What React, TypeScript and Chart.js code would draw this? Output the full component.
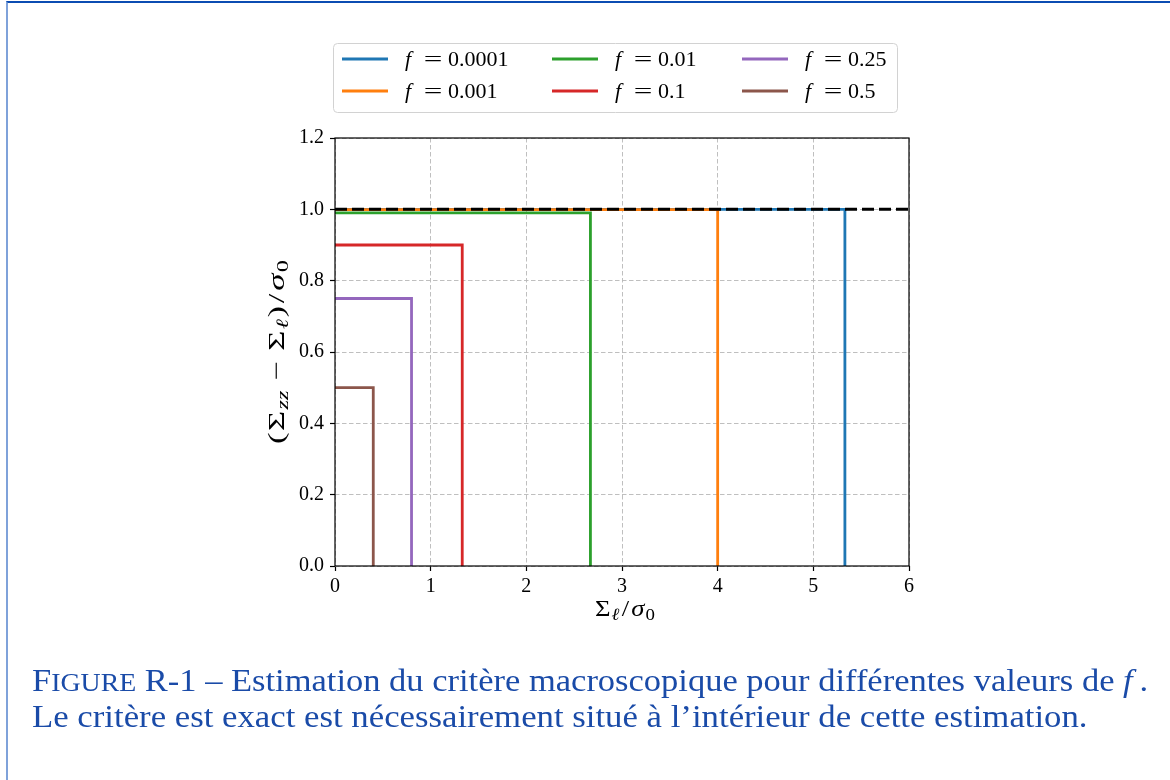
import React, { useEffect, useLayoutEffect, useRef } from "react";
import { Chart, registerables } from "chart.js";

Chart.register(...registerables);

// ---- data ----
const fLabels = ["0.0001", "0.001", "0.01", "0.1", "0.25", "0.5"];
const cornerX = [5.33, 4.0, 2.67, 1.33, 0.8, 0.4];
const cornerY = [0.9999, 0.999, 0.99, 0.9, 0.75, 0.5];
const seriesColors = ["#1f77b4", "#ff7f0e", "#2ca02c", "#d62728", "#9467bd", "#8c564b"];
const referenceY = 1.0;
const xRange = [0, 6];
const yRange = [0, 1.2];
const xTickValues = [0, 1, 2, 3, 4, 5, 6];
const yTickValues = [0, 0.2, 0.4, 0.6, 0.8, 1.0, 1.2];

// ---- layout ----
const W = 1170;
const H = 780;
const AREA = { left: 335, right: 909, top: 138, bottom: 566 };
const X_AXIS_H = 60;
const SERIF = '"Liberation Serif", "Times New Roman", serif';
const CAPTION_COLOR = "#1a4ba8";

type Seg = { t: string; font: string; dy?: number; dx?: number };

function segWidth(ctx: CanvasRenderingContext2D, segs: Seg[]) {
  let w = 0;
  for (const s of segs) {
    ctx.font = s.font;
    w += ctx.measureText(s.t).width + (s.dx || 0);
  }
  return w;
}

// draws segments centred on (x, y), stretched horizontally to targetW
function drawSegsFit(ctx: CanvasRenderingContext2D, segs: Seg[], x: number, y: number, targetW: number) {
  const nat = segWidth(ctx, segs);
  const sx = targetW / nat;
  ctx.save();
  ctx.translate(x - targetW / 2, y);
  ctx.scale(sx, 1);
  let cx = 0;
  for (const s of segs) {
    ctx.font = s.font;
    cx += s.dx || 0;
    ctx.fillText(s.t, cx, s.dy || 0);
    cx += ctx.measureText(s.t).width;
  }
  ctx.restore();
}

const up = (px: number) => `${px}px ${SERIF}`;
const it = (px: number) => `italic ${px}px ${SERIF}`;

const framePlugin = {
  id: "frame",
  afterDatasetsDraw(chart: any) {
    const { ctx, chartArea } = chart;
    ctx.save();
    ctx.strokeStyle = "#000";
    ctx.lineWidth = 1.2;
    ctx.strokeRect(chartArea.left, chartArea.top, chartArea.right - chartArea.left, chartArea.bottom - chartArea.top);
    ctx.restore();
  },
};

const titlesPlugin = {
  id: "axisTitles",
  afterDraw(chart: any) {
    const { ctx, chartArea } = chart;
    ctx.save();
    ctx.fillStyle = "#000";
    ctx.textBaseline = "alphabetic";
    const M = 24;
    const S = 17;
    const xSegs: Seg[] = [
      { t: "Σ", font: up(M) },
      { t: "ℓ", font: it(S), dy: 4, dx: 1 },
      { t: "/", font: up(M), dx: 2 },
      { t: "σ", font: it(M), dx: 2 },
      { t: "0", font: up(S), dy: 4, dx: 1 },
    ];
    drawSegsFit(ctx, xSegs, (chartArea.left + chartArea.right) / 2 + 3, 616, 60);

    const ySegs: Seg[] = [
      { t: "(", font: up(M) },
      { t: "Σ", font: up(M), dx: 1 },
      { t: "zz", font: it(S), dy: 4, dx: 1 },
      { t: "−", font: up(M), dx: 7 },
      { t: "Σ", font: up(M), dx: 7 },
      { t: "ℓ", font: it(S), dy: 4, dx: 1 },
      { t: ")", font: up(M), dx: 1 },
      { t: "/", font: up(M), dx: 2 },
      { t: "σ", font: it(M), dx: 2 },
      { t: "0", font: up(S), dy: 4, dx: 1 },
    ];
    ctx.translate(284, (chartArea.top + chartArea.bottom) / 2);
    ctx.rotate(-Math.PI / 2);
    drawSegsFit(ctx, ySegs, 0, 0, 184);
    ctx.restore();
  },
};

const legendPlugin = {
  id: "gridLegend",
  afterDraw(chart: any) {
    const { ctx } = chart;
    const box = { x: 333.5, y: 43.5, w: 564, h: 69 };
    ctx.save();
    ctx.beginPath();
    ctx.roundRect(box.x, box.y, box.w, box.h, 4);
    ctx.fillStyle = "rgba(255,255,255,0.9)";
    ctx.fill();
    ctx.strokeStyle = "#d2d2d2";
    ctx.lineWidth = 1;
    ctx.stroke();

    const colX = [342, 552, 742];
    const rowY = [59, 91];
    const ds = chart.data.datasets.filter((d: any) => d.inLegend);
    ds.forEach((d: any, k: number) => {
      const col = Math.floor(k / 2);
      const row = k % 2;
      const x0 = colX[col];
      const y0 = rowY[row];
      ctx.strokeStyle = d.borderColor;
      ctx.lineWidth = 2.8;
      ctx.setLineDash([]);
      ctx.beginPath();
      ctx.moveTo(x0, y0);
      ctx.lineTo(x0 + 46, y0);
      ctx.stroke();

      ctx.fillStyle = "#000";
      ctx.textBaseline = "alphabetic";
      const tx = x0 + 63;
      const by = y0 + 7;
      ctx.font = it(22);
      ctx.fillText("f", tx, by);
      ctx.font = up(22);
      ctx.textAlign = "center";
      ctx.save();
      ctx.translate(tx + 28, by);
      ctx.scale(1.5, 1);
      ctx.fillText("=", 0, 0);
      ctx.restore();
      ctx.textAlign = "left";
      ctx.fillText(d.label, tx + 43, by);
    });
    ctx.restore();
  },
};

function StepChart() {
  const ref = useRef<HTMLCanvasElement | null>(null);

  useEffect(() => {
    if (!ref.current) return;
    const datasets: any[] = fLabels.map((lab, i) => ({
      label: lab,
      inLegend: true,
      data: [
        { x: xRange[0], y: cornerY[i] },
        { x: cornerX[i], y: cornerY[i] },
        { x: cornerX[i], y: yRange[0] },
      ],
      borderColor: seriesColors[i],
      backgroundColor: seriesColors[i],
      borderWidth: 2.8,
      pointRadius: 0,
      fill: false,
      tension: 0,
      order: fLabels.length - i,
    }));
    datasets.push({
      label: "reference",
      inLegend: false,
      data: [
        { x: xRange[0], y: referenceY },
        { x: xRange[1], y: referenceY },
      ],
      borderColor: "#000",
      borderWidth: 3,
      borderDash: [12, 5],
      pointRadius: 0,
      fill: false,
      order: 0,
    });

    const gridOpts = {
      color: "#b8b8b8",
      lineWidth: 0.9,
      drawTicks: true,
      tickLength: 5,
      tickColor: "#000",
      tickWidth: 1.2,
      tickBorderDash: [],
    };

    const chart = new Chart(ref.current, {
      type: "line",
      data: { datasets },
      options: {
        responsive: false,
        maintainAspectRatio: false,
        animation: false,
        events: [],
        layout: {
          padding: {
            left: 0,
            top: AREA.top,
            right: W - AREA.right,
            bottom: H - AREA.bottom - X_AXIS_H,
          },
        },
        plugins: {
          legend: { display: false },
          tooltip: { enabled: false },
        },
        scales: {
          x: {
            type: "linear",
            min: xRange[0],
            max: xRange[1],
            afterBuildTicks: (s: any) => {
              s.ticks = xTickValues.map((v) => ({ value: v }));
            },
            afterFit: (s: any) => {
              s.height = X_AXIS_H;
            },
            ticks: {
              autoSkip: false,
              maxRotation: 0,
              padding: 4,
              color: "#000",
              font: { family: SERIF, size: 20 },
              callback: (v: any) => String(v),
            },
            grid: gridOpts,
            border: { display: false, dash: [4.5, 2.5] },
          },
          y: {
            type: "linear",
            min: yRange[0],
            max: yRange[1],
            afterBuildTicks: (s: any) => {
              s.ticks = yTickValues.map((v) => ({ value: v }));
            },
            afterFit: (s: any) => {
              s.width = AREA.left;
            },
            ticks: {
              autoSkip: false,
              padding: 6,
              color: "#000",
              font: { family: SERIF, size: 20 },
              callback: (v: any) => Number(v).toFixed(1),
            },
            grid: gridOpts,
            border: { display: false, dash: [4.5, 2.5] },
          },
        },
      } as any,
      plugins: [framePlugin, titlesPlugin, legendPlugin],
    });
    return () => chart.destroy();
  }, []);

  return (
    <canvas
      ref={ref}
      width={W}
      height={H}
      style={{ position: "absolute", left: 0, top: 0, width: W, height: H }}
    />
  );
}

function FitLine({ top, target, children }: { top: number; target: number; children: React.ReactNode }) {
  const ref = useRef<HTMLSpanElement | null>(null);
  useLayoutEffect(() => {
    const el = ref.current;
    if (!el) return;
    const w = el.offsetWidth;
    if (w > 0) el.style.transform = `scaleX(${target / w})`;
  }, [target]);
  return (
    <div
      style={{
        position: "absolute",
        left: 32,
        top,
        whiteSpace: "nowrap",
        fontFamily: SERIF,
        fontSize: 31,
        lineHeight: "31px",
        color: CAPTION_COLOR,
      }}
    >
      <span ref={ref} style={{ display: "inline-block", transformOrigin: "0 0" }}>
        {children}
      </span>
    </div>
  );
}

export default function App() {
  useEffect(() => {
    document.body.style.margin = "0";
  }, []);
  return (
    <div
      style={{
        position: "fixed",
        left: 0,
        top: 0,
        width: W,
        height: H,
        background: "#fff",
        overflow: "hidden",
      }}
    >
      <div
        style={{
          position: "absolute",
          left: 6,
          top: 1,
          width: W - 6,
          height: H,
          borderTop: "2px solid #0b4cb2",
          borderLeft: "2px solid #7fa2da",
          boxSizing: "border-box",
        }}
      />
      <StepChart />
      <FitLine top={665} target={1116}>
        <span>F</span>
        <span style={{ fontSize: 25 }}>IGURE</span>
        <span> R-1 – Estimation du critère macroscopique pour différentes valeurs de </span>
        <i>f</i>
        <span>&#8201;.</span>
      </FitLine>
      <FitLine top={701} target={1056}>
        <span>Le critère est exact est nécessairement situé à l’intérieur de cette estimation.</span>
      </FitLine>
    </div>
  );
}
